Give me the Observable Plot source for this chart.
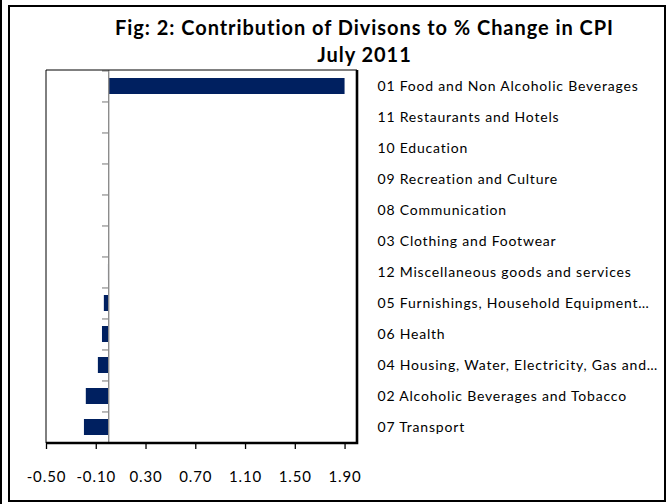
<!DOCTYPE html>
<html>
<head>
<meta charset="utf-8">
<script src="https://cdn.jsdelivr.net/npm/d3@7"></script>
<script src="https://cdn.jsdelivr.net/npm/@observablehq/plot@0.6"></script>
<style>
html, body { margin: 0; padding: 0; background: #fff; }
#wrap { position: relative; width: 669px; height: 504px; overflow: hidden; font-family: Lato, "Open Sans", sans-serif; }
#strip { position: absolute; left: 0; top: 0; width: 2px; height: 504px; background: #000; }
#box { position: absolute; left: 8px; top: 5px; width: 654px; height: 493px; border: 2px solid #000; }
#title { position: absolute; left: 0; top: 14px; width: 729px; text-align: center; font-weight: bold; font-size: 20px; letter-spacing: 0.95px; line-height: 27px; color: #000; }
#chart { position: absolute; left: 0; top: 0; }
#chart g[aria-label="y-axis tick label"] text { letter-spacing: 0.8px; }
#chart g[aria-label="x-axis tick label"] text { letter-spacing: 0.9px; }
</style>
</head>
<body>
<div id="wrap">
  <div id="strip"></div>
  <div id="box"></div>
  <div id="title">Fig: 2: Contribution of Divisons to % Change in CPI<br>July 2011</div>
  <div id="chart"></div>
</div>
<script>
const categories = [
  "01 Food and Non Alcoholic Beverages",
  "11 Restaurants and Hotels",
  "10 Education",
  "09 Recreation and Culture",
  "08 Communication",
  "03 Clothing and Footwear",
  "12 Miscellaneous goods and services",
  "05 Furnishings, Household Equipment…",
  "06 Health",
  "04 Housing, Water, Electricity, Gas and…",
  "02 Alcoholic Beverages and Tobacco",
  "07 Transport"
];
const values = [1.90, 0.003, 0.002, 0.001, 0.000, -0.001, -0.002, -0.035, -0.05, -0.083, -0.18, -0.195];
const xTicks = [-0.5, -0.1, 0.3, 0.7, 1.1, 1.5, 1.9];
const xDomain = [-0.5, 2.0];

const data = categories.map((name, i) => ({name, value: values[i]}));

const W = 669, H = 504;
const mTop = 70, mBottom = 61, mLeft = 46, mRight = 312;
const step = (H - mTop - mBottom) / categories.length;

const frameLines = (index, scales, vals, dims) => {
  const g = d3.create("svg:g");
  const x0 = dims.marginLeft, x1 = dims.width - dims.marginRight;
  const y0 = dims.marginTop, y1 = dims.height - dims.marginBottom;
  g.append("path").attr("d", `M${x0},${y1}V${y0}H${x1}`).attr("fill", "none").attr("stroke", "#000").attr("stroke-width", 1);
  g.append("path").attr("d", `M${x0},${y1}H${x1}V${y0}`).attr("fill", "none").attr("stroke", "#000").attr("stroke-width", 2.6);
  return g.node();
};

const chart = Plot.plot({
  width: W,
  height: H,
  marginTop: mTop,
  marginBottom: mBottom,
  marginLeft: mLeft,
  marginRight: mRight,
  style: {background: "transparent", fontFamily: "Lato, 'Open Sans', sans-serif", color: "#000"},
  x: {domain: xDomain},
  y: {domain: categories, paddingInner: 0.5, paddingOuter: 0.25},
  marks: [
    Plot.barX(data, {x: "value", y: "name", fill: "#002060"}),
    Plot.ruleX([0], {stroke: "#8c8c8c", strokeWidth: 1.4}),
    Plot.ruleY(categories, {y: d => d, x1: -0.05, x2: 0, dy: -step / 2, stroke: "#8c8c8c", strokeWidth: 1.2}),
    Plot.ruleY(categories.slice(-1), {y: d => d, x1: -0.05, x2: 0, dy: step / 2, stroke: "#8c8c8c", strokeWidth: 1.2}),
    frameLines,
    Plot.axisX({ticks: xTicks, tickFormat: d => d.toFixed(2), tickSize: 6, tickPadding: 22, fontSize: 15, label: null, stroke: "#000", strokeWidth: 1.3}),
    Plot.axisY({anchor: "right", tickSize: 0, tickPadding: 20, fontSize: 14, label: null, textAnchor: "start"})
  ]
});
document.getElementById("chart").appendChild(chart);
</script>
</body>
</html>
